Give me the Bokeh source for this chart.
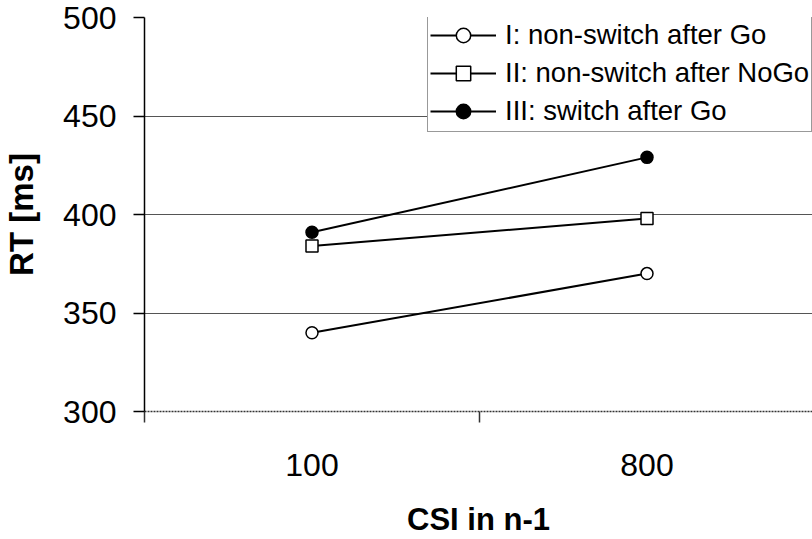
from bokeh.plotting import figure
from bokeh.models import Range1d, FixedTicker, Legend, LegendItem
from bokeh.embed import file_html
from bokeh.resources import INLINE

categories = ["100", "800"]
series_names = ["I: non-switch after Go", "II: non-switch after NoGo", "III: switch after Go"]
rt_nonswitch_go = [340, 370]
rt_nonswitch_nogo = [384, 398]
rt_switch_go = [391, 429]
y_ticks = [300, 350, 400, 450, 500]

xs = [i + 0.5 for i in range(len(categories))]

p = figure(width=812, height=539, output_backend="svg", toolbar_location=None,
           x_range=Range1d(0, 2 * 668 / 670), y_range=Range1d(300, 500),
           min_border_left=144, min_border_right=0, min_border_top=17, min_border_bottom=123)
p.outline_line_color = None
p.background_fill_color = "white"
p.border_fill_color = "white"

# axes
xa = p.xaxis[0]
xa.ticker = FixedTicker(ticks=xs, minor_ticks=[0, 1, 2])
xa.major_label_overrides = {x: c for x, c in zip(xs, categories)}
xa.major_tick_out = 0
xa.major_tick_in = 0
xa.minor_tick_out = 11
xa.minor_tick_in = 0
xa.minor_tick_line_color = "#333333"
xa.minor_tick_line_width = 1.5
xa.axis_line_color = "#333333"
xa.axis_line_width = 1.5
xa.axis_line_dash = "2 1"
xa.major_label_text_font = "Liberation Sans"
xa.major_label_text_font_size = "32px"
xa.major_label_text_color = "black"
xa.major_label_standoff = 31
xa.axis_label = "CSI in n-1"
xa.axis_label_text_font = "Liberation Sans"
xa.axis_label_text_font_size = "31px"
xa.axis_label_text_font_style = "bold"
xa.axis_label_text_color = "black"
xa.axis_label_standoff = 23

ya = p.yaxis[0]
ya.ticker = FixedTicker(ticks=y_ticks, minor_ticks=[])
ya.major_tick_out = 11
ya.major_tick_in = 0
ya.major_tick_line_color = "black"
ya.major_tick_line_width = 1.5
ya.axis_line_color = "black"
ya.axis_line_width = 1.5
ya.major_label_text_font = "Liberation Sans"
ya.major_label_text_font_size = "32px"
ya.major_label_text_color = "black"
ya.major_label_standoff = 17
ya.axis_label = "RT [ms]"
ya.axis_label_text_font = "Liberation Sans"
ya.axis_label_text_font_size = "33px"
ya.axis_label_text_font_style = "bold"
ya.axis_label_text_color = "black"
ya.axis_label_standoff = 20

p.xgrid.visible = False
p.ygrid.ticker = FixedTicker(ticks=y_ticks)
p.ygrid.grid_line_color = "#555555"
p.ygrid.grid_line_width = 1.2

# series
r1l = p.line(xs, rt_nonswitch_go, line_color="black", line_width=2)
r1m = p.scatter(xs, rt_nonswitch_go, marker="circle", size=12, fill_color="white", line_color="black", line_width=1.5)
r2l = p.line(xs, rt_nonswitch_nogo, line_color="black", line_width=2)
r2m = p.scatter(xs, rt_nonswitch_nogo, marker="square", size=12, fill_color="white", line_color="black", line_width=1.5)
r3l = p.line(xs, rt_switch_go, line_color="black", line_width=2)
r3m = p.scatter(xs, rt_switch_go, marker="circle", size=12, fill_color="black", line_color="black", line_width=1.5)

items = [LegendItem(label=series_names[0], renderers=[r1l, r1m]),
         LegendItem(label=series_names[1], renderers=[r2l, r2m]),
         LegendItem(label=series_names[2], renderers=[r3l, r3m])]
legend = Legend(items=items, location=(283, 279), padding=2, spacing=2,
                glyph_width=66, glyph_height=36, label_height=36,
                label_standoff=9, margin=0,
                label_text_font="Liberation Sans", label_text_font_size="27.5px",
                label_text_color="black",
                border_line_color="#333333", border_line_width=1.5,
                background_fill_color="white", background_fill_alpha=1.0)
p.add_layout(legend, "center")

open("out.html", "w").write(file_html(p, INLINE))
